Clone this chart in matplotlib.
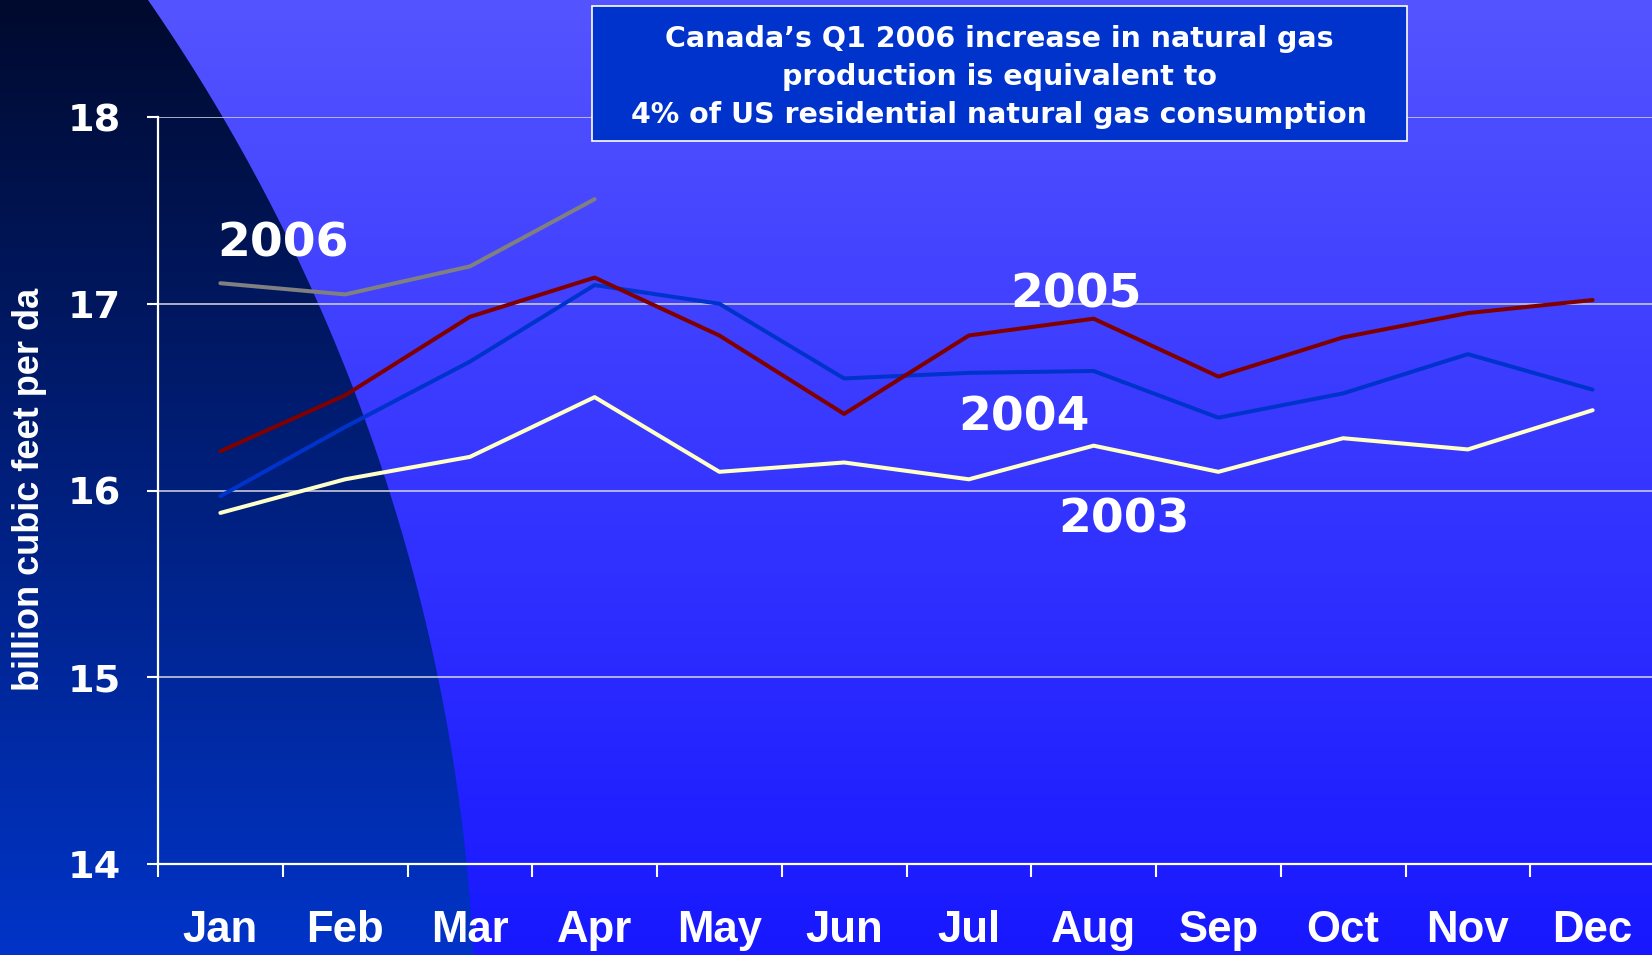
import numpy as np
import matplotlib.pyplot as plt
from matplotlib.patches import Polygon, Rectangle

# --- data (billion cubic feet per day) ---
months = ['Jan', 'Feb', 'Mar', 'Apr', 'May', 'Jun', 'Jul', 'Aug', 'Sep', 'Oct', 'Nov', 'Dec']
y2003 = [15.88, 16.06, 16.18, 16.50, 16.10, 16.15, 16.06, 16.24, 16.10, 16.28, 16.22, 16.43]
y2004 = [15.97, 16.34, 16.69, 17.10, 17.00, 16.60, 16.63, 16.64, 16.39, 16.52, 16.73, 16.54]
y2005 = [16.21, 16.51, 16.93, 17.14, 16.83, 16.41, 16.83, 16.92, 16.61, 16.82, 16.95, 17.02]
y2006 = [17.11, 17.05, 17.20, 17.56]
yticks = [14, 15, 16, 17, 18]
note_lines = ['Canada\u2019s Q1 2006 increase in natural gas',
              'production is equivalent to',
              '4% of US residential natural gas consumption']
ylabel = 'billion cubic feet per da'

W, H = 1652, 955
BOLD_T = 'DejaVu Sans'
BOLD_A = 'Liberation Sans'

fig = plt.figure(figsize=(W / 100, H / 100), dpi=100)

# background: blue gradient + dark curved region on the left
bg = fig.add_axes([0, 0, 1, 1])
bg.set_xlim(0, W)
bg.set_ylim(H, 0)
bg.axis('off')
bg.set_zorder(-1)


def vgrad(top, bottom, n=256):
    t = np.linspace(0, 1, n)[:, None]
    top = np.array(top) / 255.
    bottom = np.array(bottom) / 255.
    return (top + (bottom - top) * t).reshape(n, 1, 3)


bg.imshow(vgrad((84, 84, 255), (24, 24, 255)), extent=[0, W, H, 0], aspect='auto')
dark = bg.imshow(vgrad((0, 10, 46), (0, 52, 200)), extent=[0, W, H, 0], aspect='auto')
cx, cy, R = -1368.6, 1050, 1844.6
ys = np.linspace(0, H, 120)
xs = cx + np.sqrt(R ** 2 - (ys - cy) ** 2)
verts = [(0, 0)] + list(zip(xs, ys)) + [(0, H)]
clip = Polygon(verts, closed=True, transform=bg.transData, facecolor='none', edgecolor='none')
bg.add_patch(clip)
dark.set_clip_path(clip)

# main chart
ax = fig.add_axes([158 / W, 1 - 864 / H, (1655 - 158) / W, (864 - 117) / H])
ax.patch.set_visible(False)

x = np.arange(len(months))
lw = 2.9
ax.plot(x, y2003, color='#FFFFC8', lw=lw, solid_capstyle='round', zorder=3)
ax.plot(x, y2004, color='#0033CC', lw=lw, solid_capstyle='round', zorder=3)
ax.plot(x, y2005, color='#800000', lw=lw, solid_capstyle='round', zorder=3)
ax.plot(x[:len(y2006)], y2006, color='#808080', lw=lw, solid_capstyle='round', zorder=3)

ax.set_xlim(-0.5, 11.5)
ax.set_ylim(14, 18)
ax.set_yticks(yticks)
ax.set_yticklabels([str(v) for v in yticks], fontfamily=BOLD_T, fontweight='bold')
ax.grid(axis='y', color='#C8C8D8', lw=1.2)
ax.set_axisbelow(True)

ax.set_xticks(np.arange(-0.5, 12, 1))
ax.set_xticks(x, minor=True)
ax.set_xticklabels(months, minor=True, fontfamily=BOLD_A, fontweight='bold')
ax.tick_params(axis='x', which='major', length=9, width=1.5, color='white', labelbottom=False)
ax.tick_params(axis='x', which='minor', length=0, pad=33, labelsize=31.5, labelcolor='white')
ax.tick_params(axis='y', length=8, width=1.5, color='white', pad=19, labelsize=27.5, labelcolor='white')

for s in ['top', 'right']:
    ax.spines[s].set_visible(False)
for s in ['left', 'bottom']:
    ax.spines[s].set_color('white')
    ax.spines[s].set_linewidth(1.6)

# year labels
year_labels = [('2006', 0.50, 17.255), ('2005', 6.86, 16.982),
               ('2004', 6.44, 16.323), ('2003', 7.24, 15.776)]
for txt, xl, yl in year_labels:
    ax.text(xl, yl, txt, ha='center', va='baseline', color='white',
            fontsize=34, fontweight='bold', fontfamily=BOLD_T, zorder=4)

fig.text(30 / W, 1 - 489 / H, ylabel, rotation=90, ha='center', va='center',
         color='white', fontsize=26, fontweight='bold', fontfamily=BOLD_A)

# note box
box = Rectangle((592 / W, 1 - 141 / H), (1407 - 592) / W, (141 - 6) / H,
                transform=fig.transFigure, facecolor='#0033CC', edgecolor='white',
                lw=1.2, zorder=5)
fig.add_artist(box)
for line, base in zip(note_lines, [47, 85, 123]):
    fig.text(999 / W, 1 - base / H, line, ha='center', va='baseline', color='white',
             fontsize=20.5, fontweight='bold', fontfamily=BOLD_T, zorder=6)

fig.savefig('out.png', dpi=100)
